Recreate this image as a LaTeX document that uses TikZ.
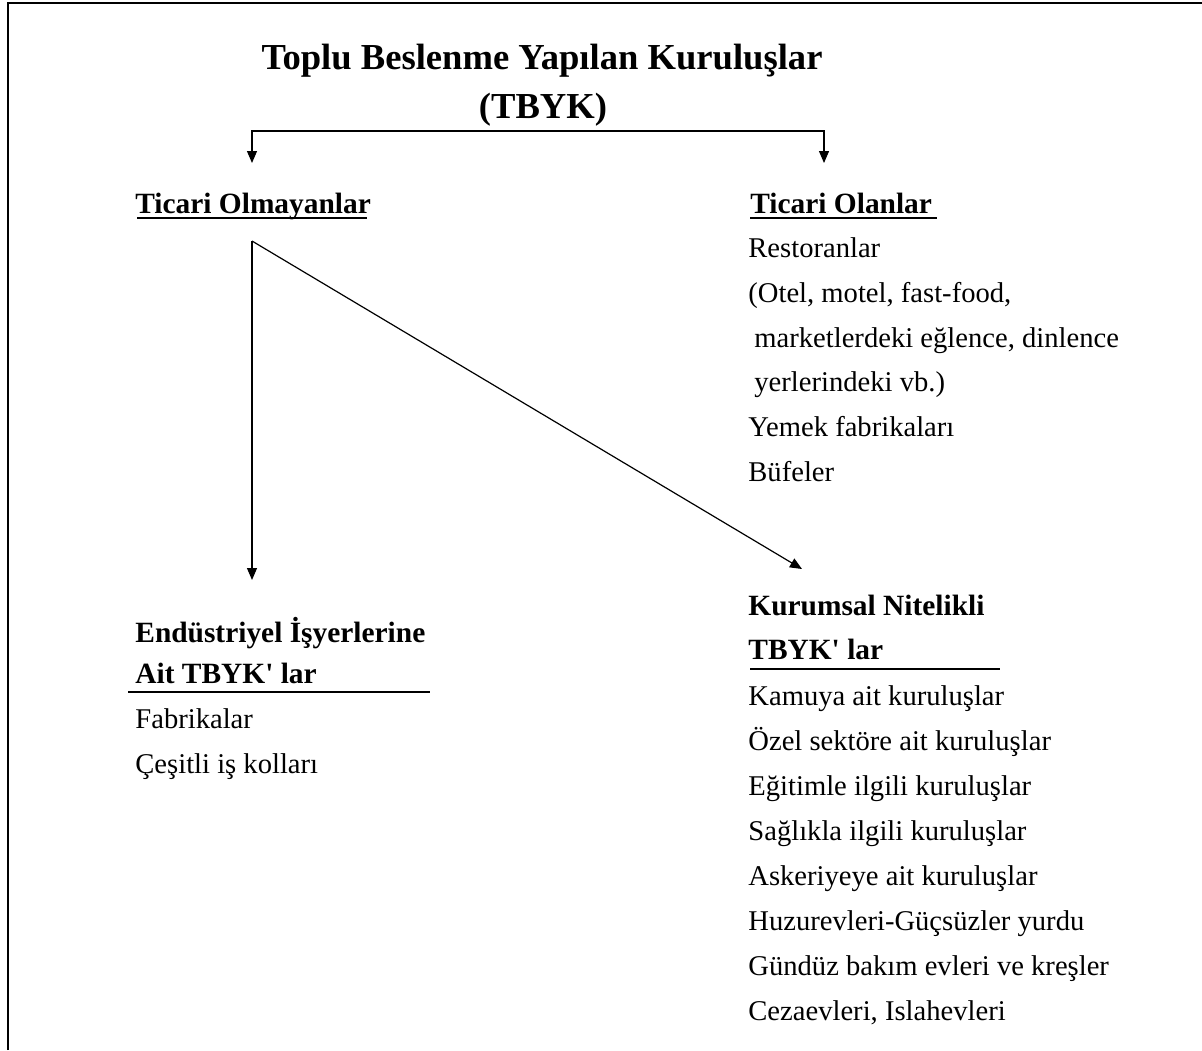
\documentclass[tikz,border=0pt]{standalone}
\usepackage{fontspec}
\setmainfont{Liberation Serif}
\usepackage{tikz}
\usetikzlibrary{arrows.meta}
\usetikzlibrary{positioning}
\tikzset{>={Triangle[length=6pt, width=5pt]}}
\tikzstyle{txt} = [draw=none, inner sep = 0, anchor = base west, font=\fontsize{14.3}{16}\selectfont]
\tikzstyle{head} = [txt, font=\fontsize{14.7}{16}\selectfont\bfseries]
\tikzstyle{ttl} = [draw=none, inner sep = 0, anchor = base, font=\fontsize{18.3}{20}\selectfont\bfseries]
\tikzstyle{uline} = [-, line width = 0.6pt]
\tikzstyle{arr} = [->, line width = 0.6pt]

\begin{document}
\begin{tikzpicture}[x=0.5pt, y=-0.5pt]
\useasboundingbox (0, 0) rectangle (1202, 1050);
\draw [line width = 1pt] (8, 1050) -- (8, 3) -- (1202, 3);
\node [ttl] (T1) at (542, 69) {Toplu Beslenme Yapılan Kuruluşlar};
\node [ttl] (T2) at (543, 118) {(TBYK)};
\node [head] (NC) at (135, 213) {Ticari Olmayanlar};
\node [head] (C) at (750, 213) {Ticari Olanlar};
\draw [uline] (137, 218) -- (367, 218);
\draw [uline] (750, 218) -- (937, 218);
\node [txt] (C1) at (748, 257) {Restoranlar};
\node [txt] (C2) at (748, 302) {(Otel, motel, fast-food,};
\node [txt] (C3) at (754, 347) {marketlerdeki eğlence, dinlence};
\node [txt] (C4) at (754, 391) {yerlerindeki vb.)};
\node [txt] (C5) at (748, 436) {Yemek fabrikaları};
\node [txt] (C6) at (748, 481) {Büfeler};
\node [head] (E1) at (135, 642) {Endüstriyel İşyerlerine};
\node [head] (E2) at (135, 683) {Ait TBYK\textquotesingle{} lar};
\draw [uline] (128, 692) -- (430, 692);
\node [txt] (E3) at (135, 728) {Fabrikalar};
\node [txt] (E4) at (135, 773) {Çeşitli iş kolları};
\node [head] (K1) at (748, 615) {Kurumsal Nitelikli};
\node [head] (K2) at (748, 659) {TBYK\textquotesingle{} lar};
\draw [uline] (750, 669) -- (1000, 669);
\node [txt] (K3) at (748, 705) {Kamuya ait kuruluşlar};
\node [txt] (K4) at (748, 750) {Özel sektöre ait kuruluşlar};
\node [txt] (K5) at (748, 795) {Eğitimle ilgili kuruluşlar};
\node [txt] (K6) at (748, 840) {Sağlıkla ilgili kuruluşlar};
\node [txt] (K7) at (748, 885) {Askeriyeye ait kuruluşlar};
\node [txt] (K8) at (748, 930) {Huzurevleri-Güçsüzler yurdu};
\node [txt] (K9) at (748, 975) {Gündüz bakım evleri ve kreşler};
\node [txt] (K10) at (748, 1020) {Cezaevleri, Islahevleri};
\coordinate (tl) at (252, 163);
\coordinate (tr) at (824, 163);
\coordinate (hr) at (824, 131);
\coordinate (st) at (252, 241);
\coordinate (eEnd) at (252, 580);
\coordinate (kEnd) at (802, 569);
\draw [<->, line width = 0.6pt] (tl) |- (hr) -- (tr);
\draw [arr] (st) -- (eEnd);
\draw [arr] (st) -- (kEnd);
\end{tikzpicture}
\end{document}
